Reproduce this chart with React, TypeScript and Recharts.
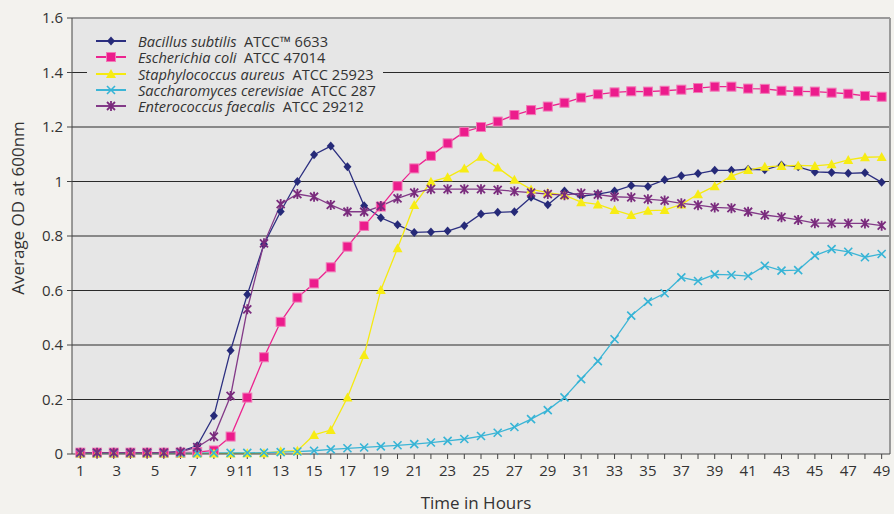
import React from 'react';
import {
  CartesianGrid,
  Legend,
  Line,
  LineChart,
  ReferenceLine,
  XAxis,
  YAxis,
} from 'recharts';

const hours = [
  1, 2, 3, 4, 5, 6, 7, 8, 9, 10, 11, 12, 13, 14, 15, 16, 17, 18, 19, 20, 21, 22, 23, 24, 25,
  26, 27, 28, 29, 30, 31, 32, 33, 34, 35, 36, 37, 38, 39, 40, 41, 42, 43, 44, 45, 46, 47, 48, 49,
];

const hourLabels = [
  1, 3, 5, 7, 9, 11, 13, 15, 17, 19, 21, 23, 25, 27, 29, 31, 33, 35, 37, 39, 41, 43, 45, 47, 49,
];

const odTicks = [0, 0.2, 0.4, 0.6, 0.8, 1, 1.2, 1.4, 1.6];
const gridValues = [0.2, 0.4, 0.6, 0.8, 1, 1.2, 1.4];

const bacillus = [
  0.005, 0.005, 0.005, 0.005, 0.005, 0.005, 0.01, 0.03, 0.14, 0.38, 0.585, 0.77, 0.89, 1.0,
  1.098, 1.13, 1.054, 0.911, 0.867, 0.841, 0.813, 0.815, 0.818, 0.838, 0.881, 0.887, 0.889,
  0.942, 0.915, 0.965, 0.946, 0.954, 0.965, 0.985, 0.982, 1.006, 1.021, 1.029, 1.041, 1.041,
  1.045, 1.043, 1.061, 1.054, 1.035, 1.033, 1.03, 1.032, 0.997,
];

const ecoli = [
  0.005, 0.005, 0.005, 0.005, 0.005, 0.005, 0.005, 0.007, 0.013, 0.064, 0.207, 0.355, 0.485,
  0.574, 0.626, 0.685, 0.761, 0.837, 0.908, 0.983, 1.048, 1.094, 1.14, 1.182, 1.2, 1.22, 1.244,
  1.262, 1.275, 1.289, 1.308, 1.32, 1.327, 1.331, 1.33, 1.333, 1.337, 1.343, 1.348, 1.348, 1.341,
  1.34, 1.333, 1.331, 1.33, 1.326, 1.322, 1.314, 1.311,
];

const staph = [
  0.002, 0.002, 0.002, 0.002, 0.002, 0.002, 0.002, 0.002, 0.002, 0.002, 0.003, 0.003, 0.01,
  0.012, 0.07, 0.088, 0.207, 0.363, 0.602, 0.755, 0.914, 0.999, 1.016, 1.048, 1.091, 1.051,
  1.006, 0.971, 0.959, 0.95, 0.924, 0.916, 0.895, 0.877, 0.893, 0.895, 0.916, 0.953, 0.983, 1.02,
  1.042, 1.054, 1.057, 1.059, 1.057, 1.063, 1.079, 1.089, 1.09,
];

const sacch = [
  0.003, 0.003, 0.003, 0.003, 0.003, 0.003, 0.003, 0.003, 0.004, 0.004, 0.004, 0.005, 0.007,
  0.009, 0.012, 0.017, 0.021, 0.024, 0.028, 0.032, 0.036, 0.042, 0.048, 0.055, 0.066, 0.078,
  0.099, 0.128, 0.161, 0.208, 0.275, 0.341, 0.421, 0.508, 0.559, 0.59, 0.648, 0.635, 0.659,
  0.657, 0.653, 0.691, 0.673, 0.675, 0.728, 0.752, 0.742, 0.722, 0.734,
];

const entero = [
  0.005, 0.005, 0.005, 0.005, 0.005, 0.005, 0.008, 0.025, 0.064, 0.213, 0.531, 0.773, 0.917,
  0.954, 0.944, 0.914, 0.889, 0.889, 0.91, 0.938, 0.959, 0.972, 0.972, 0.972, 0.972, 0.969,
  0.964, 0.959, 0.954, 0.95, 0.957, 0.952, 0.944, 0.942, 0.935, 0.93, 0.92, 0.913, 0.905, 0.902,
  0.889, 0.877, 0.869, 0.859, 0.847, 0.847, 0.846, 0.846, 0.838,
];

const data = hours.map((hour, i) => ({
  hour,
  bacillus: bacillus[i],
  ecoli: ecoli[i],
  staph: staph[i],
  sacch: sacch[i],
  entero: entero[i],
}));

type ShapeFn = (cx: number, cy: number, key?: string | number) => React.ReactElement;

const diamond: ShapeFn = (cx, cy, key) => (
  <path
    key={key}
    d={`M${cx},${cy - 4.5}L${cx + 4},${cy}L${cx},${cy + 4.5}L${cx - 4},${cy}Z`}
    fill="#262a78"
  />
);

const square: ShapeFn = (cx, cy, key) => (
  <rect
    key={key}
    x={cx - 4.5}
    y={cy - 4.5}
    width={9}
    height={9}
    fill="#ec1c8c"
    stroke="#f27ab8"
    strokeWidth={1}
  />
);

const triangle: ShapeFn = (cx, cy, key) => (
  <path
    key={key}
    d={`M${cx},${cy - 5}L${cx + 5},${cy + 4}L${cx - 5},${cy + 4}Z`}
    fill="#f7ec14"
  />
);

const cross: ShapeFn = (cx, cy, key) => (
  <path
    key={key}
    d={`M${cx - 4},${cy - 4}L${cx + 4},${cy + 4}M${cx - 4},${cy + 4}L${cx + 4},${cy - 4}`}
    stroke="#36b4d6"
    strokeWidth={1.6}
    fill="none"
  />
);

const star: ShapeFn = (cx, cy, key) => (
  <path
    key={key}
    d={`M${cx - 4},${cy - 4}L${cx + 4},${cy + 4}M${cx - 4},${cy + 4}L${cx + 4},${cy - 4}M${cx},${cy - 5}L${cx},${cy + 5}`}
    stroke="#7a2b7d"
    strokeWidth={1.8}
    fill="none"
  />
);

const series = [
  { key: 'bacillus', name: 'Bacillus subtilis', strain: 'ATCC\u2122 6633', color: '#2c2f80', shape: diamond },
  { key: 'ecoli', name: 'Escherichia coli', strain: 'ATCC 47014', color: '#ec248f', shape: square },
  { key: 'staph', name: 'Staphylococcus aureus', strain: 'ATCC 25923', color: '#f5ea10', shape: triangle },
  { key: 'sacch', name: 'Saccharomyces cerevisiae', strain: 'ATCC 287', color: '#3cb5d6', shape: cross },
  { key: 'entero', name: 'Enterococcus faecalis', strain: 'ATCC 29212', color: '#833a88', shape: star },
];

const FONT = '"Open Sans", sans-serif';
const TEXT = '#333333';

// the source's first few hour labels sit crowded to the right ("911")
const labelShift: Record<number, number> = { 3: 3, 5: 8, 7: 12, 9: 17, 11: -2 };

const HourTick = (props: any) => {
  const { x, y, payload } = props;
  const v = payload.value as number;
  if (!hourLabels.includes(v)) return null;
  return (
    <text
      x={x + (labelShift[v] ?? 0)}
      y={y + 15}
      textAnchor="middle"
      fontSize={15}
      fill={TEXT}
      fontFamily={FONT}
    >
      {v}
    </text>
  );
};

const renderLegend = () => (
  <div
    style={{
      background: '#e6e6e6',
      width: 296,
      fontFamily: FONT,
      fontSize: 14.6,
      color: TEXT,
      paddingBottom: 2,
    }}
  >
    {series.map((s) => (
      <div key={s.key} style={{ display: 'flex', alignItems: 'center', height: 16.25 }}>
        <svg width={51} height={16} style={{ flex: 'none' }}>
          <line x1={9} x2={39} y1={8} y2={8} stroke={s.color} strokeWidth={2} />
          {s.shape(24, 8)}
        </svg>
        <span style={{ whiteSpace: 'pre', lineHeight: '16px' }}>
          <i>{s.name}</i>
          {'  ' + s.strain}
        </span>
      </div>
    ))}
  </div>
);

const formatOd = (v: number) => (v === 0 || v === 1 ? String(v) : v.toFixed(1));

export default function App() {
  return (
    <div
      style={{
        position: 'fixed',
        left: 0,
        top: 0,
        width: 894,
        height: 514,
        background: '#f3f2ee',
      }}
    >
      <LineChart
        width={894}
        height={514}
        data={data}
        margin={{ top: 18, right: 4, bottom: 0, left: 0 }}
      >
        <CartesianGrid
          vertical={false}
          horizontalValues={gridValues}
          stroke="#2a2a2a"
          strokeWidth={1.2}
          fill="#e6e6e6"
          fillOpacity={1}
        />
        <ReferenceLine y={1.6} stroke="#9a9a9a" strokeWidth={2} />
        <ReferenceLine x={49.5} stroke="#9a9a9a" strokeWidth={2} />
        <XAxis
          type="number"
          dataKey="hour"
          domain={[0.5, 49.5]}
          ticks={hours}
          interval={0}
          tickSize={5}
          height={60}
          stroke="#444"
          tick={<HourTick />}
          label={({ viewBox }: any) => (
            <text
              x={viewBox.x + viewBox.width / 2 - 5}
              y={viewBox.y + 55}
              textAnchor="middle"
              fontSize={17}
              fill={TEXT}
              fontFamily={FONT}
            >
              Time in Hours
            </text>
          )}
        />
        <YAxis
          domain={[0, 1.6]}
          ticks={odTicks}
          interval={0}
          width={72}
          tickSize={5}
          tickMargin={4}
          stroke="#444"
          tickFormatter={formatOd}
          tick={{ fontSize: 15, fill: TEXT, fontFamily: FONT }}
          label={({ viewBox }: any) => {
            const x = 24;
            const y = viewBox.y + 190;
            return (
              <text
                x={x}
                y={y}
                transform={`rotate(-90 ${x} ${y})`}
                textAnchor="middle"
                fontSize={17}
                fill={TEXT}
                fontFamily={FONT}
              >
                Average OD at 600nm
              </text>
            );
          }}
        />
        <Legend
          layout="vertical"
          align="center"
          verticalAlign="middle"
          wrapperStyle={{ left: 87, top: 33, width: 296 }}
          content={renderLegend}
        />
        {series.map((s) => (
          <Line
            key={s.key}
            type="linear"
            dataKey={s.key}
            name={s.name}
            stroke={s.color}
            strokeWidth={1.3}
            isAnimationActive={false}
            dot={(p: any) => s.shape(p.cx, p.cy, `${s.key}-${p.index}`)}
            activeDot={false}
          />
        ))}
      </LineChart>
    </div>
  );
}
